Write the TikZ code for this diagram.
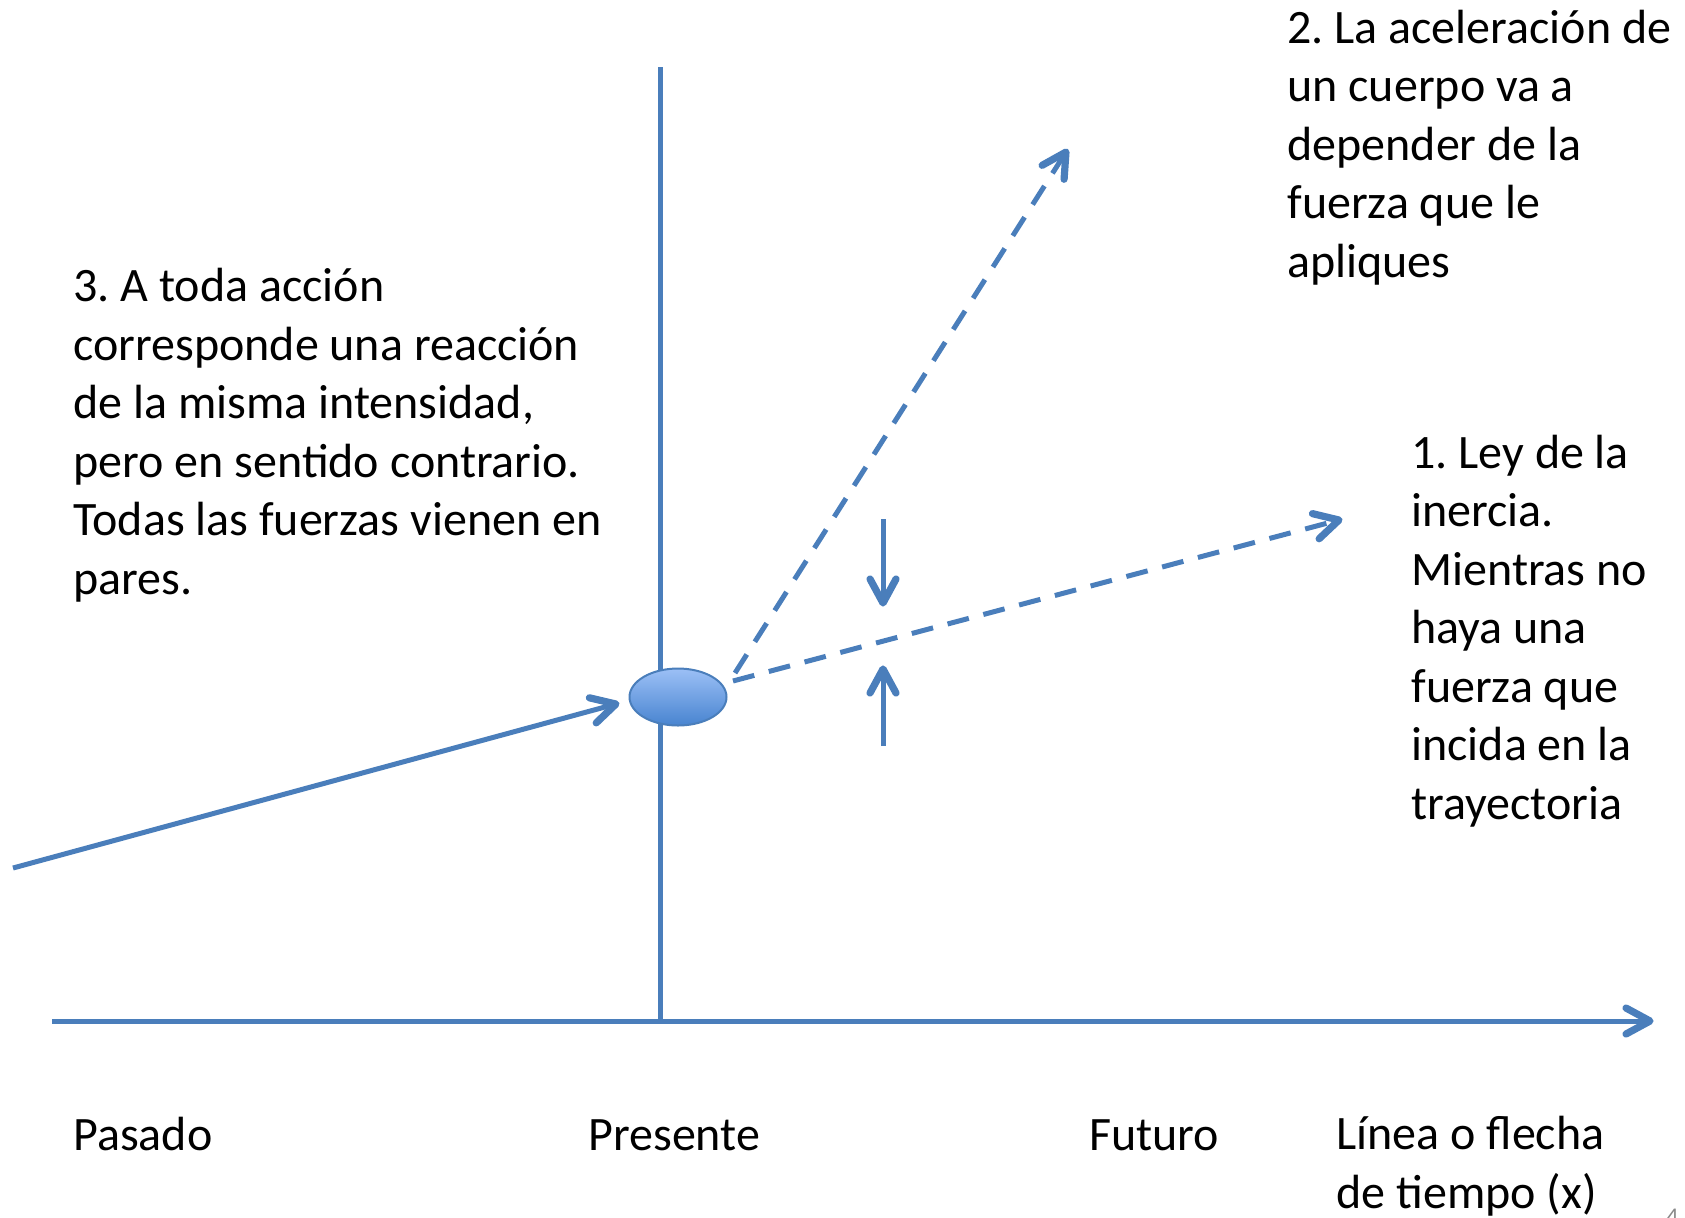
\documentclass[tikz,border=0pt]{standalone}
\usepackage{fontspec}
\setmainfont{Carlito}
\usetikzlibrary{shapes.geometric,decorations.markings}
\definecolor{lblue}{RGB}{74,126,187}
\definecolor{balltop}{RGB}{156,192,246}
\definecolor{ballbot}{RGB}{72,132,208}
\definecolor{numgray}{RGB}{137,137,137}
\frenchspacing
\begin{document}
\begin{tikzpicture}[x=0.5pt,y=-0.5pt,
  line/.style={draw=lblue,line width=2.5pt},
  tip/.style={postaction={decorate},decoration={markings,
     mark=at position 1 with {\draw[solid,draw=lblue,line width=3.6pt,line cap=round,line join=round]
       (-12pt,6.5pt) -- (0pt,0pt) -- (-12pt,-6.5pt);}}},
  dashline/.style={dash pattern=on 11pt off 7.5pt},
  ball/.style={ellipse,draw=lblue,line width=1pt,top color=balltop,bottom color=ballbot,minimum width=48.5pt,minimum height=28.5pt,inner sep=0pt},
  lbl/.style={inner sep=0pt,anchor=base west,align=left,font=\fontsize{24}{29.25}\selectfont\frenchspacing}]
\useasboundingbox (0,0) rectangle (1685,1217);
% axes
\coordinate (vtop) at (660,67);
\coordinate (vbot) at (660,1021);
\coordinate (hstart) at (52,1021);
\coordinate (hend) at (1650,1021);
\draw[line] (vtop) -- (vbot);
\draw[line,tip] (hstart) -- (hend);
% body
\node[ball] (ball) at (678,697) {};
% incoming path
\coordinate (pstart) at (13,868);
\coordinate (ptip) at (616,704);
\draw[line,tip] (pstart) -- (ptip);
% dashed trajectories
\coordinate (d1s) at (735,673);
\coordinate (d1e) at (1066,152);
\coordinate (d2s) at (733,681);
\coordinate (d2e) at (1339,520);
\draw[line,dashline,tip] (d1s) -- (d1e);
\draw[line,dashline,tip] (d2s) -- (d2e);
% small force arrows
\coordinate (fdA) at (883,519);
\coordinate (fdB) at (883,603);
\coordinate (fuA) at (883,746);
\coordinate (fuB) at (883,669);
\draw[line,tip] (fdA) -- (fdB);
\draw[line,tip] (fuA) -- (fuB);
% texts (anchored at the baseline of the last line)
\node[lbl] (t3) at (73,594) {3. A toda acción\\corresponde una reacción\\de la misma intensidad,\\pero en sentido contrario.\\Todas las fuerzas vienen en\\pares.};
\node[lbl] (t2) at (1287,277) {2. La aceleración de\\un cuerpo va a\\depender de la\\fuerza que le\\apliques};
\node[lbl] (t1) at (1411,819) {1. Ley de la\\inercia.\\Mientras no\\haya una\\fuerza que\\incida en la\\trayectoria};
\node[lbl] (pas) at (73,1150) {Pasado};
\node[lbl] (pre) at (588,1150) {Presente};
\node[lbl] (fut) at (1089,1150) {Futuro};
\node[lbl] (lin) at (1336,1208) {Línea o flecha\\de tiempo (x)};
\node[inner sep=0pt,anchor=north west,text=numgray,font=\fontsize{12}{14}\selectfont] (num) at (1666,1209) {4};
\end{tikzpicture}
\end{document}
